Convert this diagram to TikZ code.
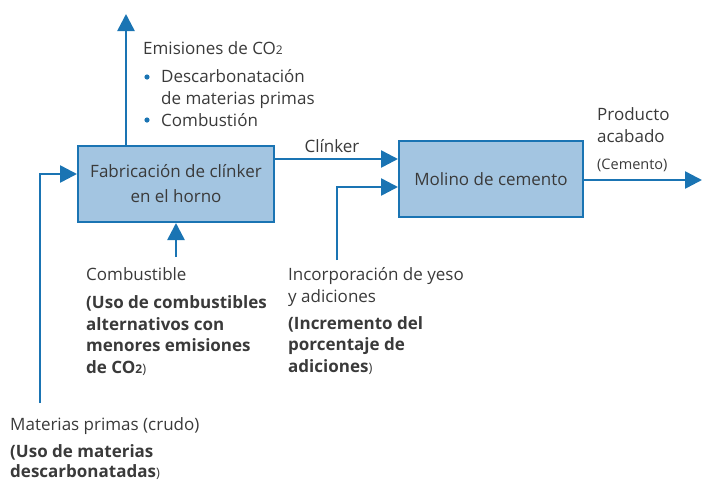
\documentclass[tikz,border=0pt]{standalone}
\usepackage{fontspec}
\setmainfont{Open Sans}
\usetikzlibrary{arrows.meta}
\definecolor{flowblue}{HTML}{1A74B3}
\definecolor{boxfill}{HTML}{A3C5E1}
\definecolor{txt}{HTML}{3A3A3A}
\newcommand{\smallsub}[1]{{\fontsize{12}{12}\selectfont #1}}
\newcommand{\smallpar}{{\mdseries\fontsize{13}{13}\selectfont)}}
\begin{document}
\begin{tikzpicture}[x=1pt,y=-1pt,
  flow/.style={draw=flowblue, line width=2.6pt, -{Triangle[length=17pt,width=17pt]}},
  procbox/.style={draw=flowblue, line width=2pt, fill=boxfill, inner sep=0pt, align=center, font=\fontsize{17}{25}\selectfont, text=txt},
  lbl/.style={anchor=base west, inner sep=0pt, align=left, text=txt, font=\fontsize{17}{21.5}\selectfont},
  blbl/.style={lbl, font=\fontsize{17}{21.5}\selectfont\bfseries}]
\useasboundingbox (0,0) rectangle (702,480);
% boxes
\node[procbox, minimum width=196pt, minimum height=76pt] (kiln) at (176,184) {Fabricación de clínker\\en el horno};
\node[procbox, minimum width=184pt, minimum height=76pt] (mill) at (491,179) {Molino de cemento};
% free ends
\coordinate (co2) at (126,14);
\coordinate (raw) at (40,403);
\coordinate (fuel) at (176,257);
\coordinate (yeso) at (337,260);
\coordinate (out) at (702,180);
% connectors
\draw[flow] (kiln.north -| co2) -- (co2);
\draw[flow] ([yshift=25pt]kiln.east) -- ([yshift=25pt]kiln.east -| mill.west);
\draw[flow] (yeso) |- ([yshift=-8pt]mill.west);
\draw[flow] (mill.east |- out) -- (out);
\draw[flow] (raw) |- ([yshift=10pt]kiln.west);
\draw[flow] (fuel) -- (kiln.south);
% labels (multi-line nodes: base = last line)
\node[lbl] (emis) at (143,54) {Emisiones de CO\smallsub{2}};
\node[lbl] (b1) at (161,104) {Descarbonatación\\de materias primas};
\node[lbl] (b2) at (161,126) {Combustión};
\fill[flowblue] (147,77) circle (2.6pt);
\fill[flowblue] (147,120) circle (2.6pt);
\node[lbl, anchor=base] (clk) at (332,152) {Clínker};
\node[lbl] (prod) at (597,142) {Producto\\acabado};
\node[lbl, font=\fontsize{14.5}{16}\selectfont] (cem) at (597,169) {(Cemento)};
\node[lbl] (comb) at (86,280) {Combustible};
\node[blbl] (combb) at (86,373) {(Uso de combustibles\\alternativos con\\menores emisiones\\de CO\smallsub{2}\smallpar};
\node[lbl] (inc) at (288,302) {Incorporación de yeso\\y adiciones};
\node[blbl] (incb) at (288,372) {(Incremento del\\porcentaje de\\adiciones\smallpar};
\node[lbl] (mat) at (10,430) {Materias primas (crudo)};
\node[blbl, font=\fontsize{17}{20}\selectfont\bfseries] (matb) at (10,477) {(Uso de materias\\descarbonatadas\smallpar};
\end{tikzpicture}
\end{document}
